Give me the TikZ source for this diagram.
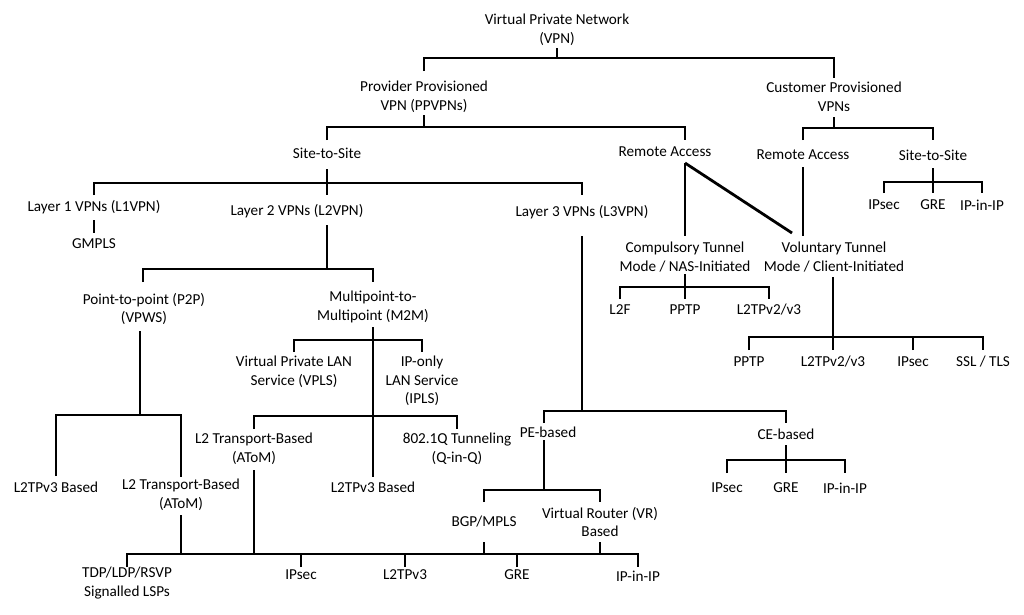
\documentclass[tikz,border=0pt]{standalone}
\usepackage{fontspec}
\setmainfont{Carlito}
\begin{document}
\begin{tikzpicture}[x=1pt,y=-1pt,
  every node/.style={font=\fontsize{15.2}{18.5}\selectfont, align=center, inner sep=0pt},
  link/.style={line width=2.8pt}]
\fill[white] (0,0) rectangle (1024,614);
\useasboundingbox (0,0) rectangle (1024,614);
% nodes
\node (vpn) at (557,30) {Virtual Private Network\\(VPN)};
\node (ppvpn) at (424,97) {Provider Provisioned\\VPN (PPVPNs)};
\node (cpvpn) at (834,97) {Customer Provisioned\\VPNs};
\node (s2s) at (327,153) {Site-to-Site};
\node (ppra) at (665,152) {Remote Access};
\node (cpra) at (803,155) {Remote Access};
\node (cps2s) at (933,155) {Site-to-Site};
\node (cpipsec) at (884,205) {IPsec};
\node (cpgre) at (933,205) {GRE};
\node (cpipip) at (982,205) {IP-in-IP};
\node (l1) at (94,207) {Layer 1 VPNs (L1VPN)};
\node (l2) at (297,211) {Layer 2 VPNs (L2VPN)};
\node (l3) at (582,212) {Layer 3 VPNs (L3VPN)};
\node (gmpls) at (94,244) {GMPLS};
\node (comp) at (685,257) {Compulsory Tunnel\\Mode / NAS-Initiated};
\node (vol) at (834,257) {Voluntary Tunnel\\Mode / Client-Initiated};
\node (l2f) at (620,310) {L2F};
\node (pptpa) at (685,310) {PPTP};
\node (l2tpva) at (769,310) {L2TPv2/v3};
\node (pptpb) at (749,362) {PPTP};
\node (l2tpvb) at (833,362) {L2TPv2/v3};
\node (ipsecv) at (913,362) {IPsec};
\node (ssl) at (983,362) {SSL / TLS};
\node (p2p) at (144,309) {Point-to-point (P2P)\\(VPWS)};
\node (m2m) at (373,307) {Multipoint-to-\\Multipoint (M2M)};
\node (vpls) at (294,372) {Virtual Private LAN\\Service (VPLS)};
\node (ipls) at (422,381) {IP-only\\LAN Service\\(IPLS)};
\node (l2tpa) at (56,487) {L2TPv3 Based};
\node (atoma) at (181,495) {L2 Transport-Based\\(AToM)};
\node (atomb) at (254,449) {L2 Transport-Based\\(AToM)};
\node (qinq) at (457,449) {802.1Q Tunneling\\(Q-in-Q)};
\node (l2tpb) at (373,487) {L2TPv3 Based};
\node (pe) at (548,432) {PE-based};
\node (ce) at (786,434) {CE-based};
\node (ceipsec) at (727,488) {IPsec};
\node (cegre) at (786,488) {GRE};
\node (ceipip) at (845,488) {IP-in-IP};
\node (bgp) at (484,522) {BGP/MPLS};
\node (vr) at (600,522) {Virtual Router (VR)\\Based};
\node (tdp) at (127,583) {TDP/LDP/RSVP\\Signalled LSPs};
\node (bipsec) at (301,575) {IPsec};
\node (bl2tp) at (405,575) {L2TPv3};
\node (bgre) at (517,575) {GRE};
\node (bipip) at (638,576) {IP-in-IP};
% junctions
\coordinate (j1) at (557,58);
\coordinate (j2) at (424,127);
\coordinate (j3) at (834,128);
\coordinate (j4) at (933,182);
\coordinate (j5) at (327,183);
\coordinate (j6) at (685,287);
\coordinate (j7) at (833,337);
\coordinate (j8) at (327,269);
\coordinate (j9) at (140,415);
\coordinate (j10) at (373,340);
\coordinate (j11) at (373,416);
\coordinate (j12) at (582,411);
\coordinate (j13) at (544,490);
\coordinate (j14) at (786,460);
\coordinate (busR) at (638,554);
% VPN
\draw[link] ([yshift=-18pt]vpn.center) -- (j1);
\draw[link] ([yshift=26pt]ppvpn.center) |- (j1) -| ([yshift=19pt]cpvpn.center);
% PPVPN
\draw[link] ([yshift=-18pt]ppvpn.center) -- (j2);
\draw[link] ([yshift=13pt]s2s.center) |- (j2) -| ([xshift=20pt,yshift=12pt]ppra.center);
% CP
\draw[link] ([yshift=-20pt]cpvpn.center) -- (j3);
\draw[link] ([yshift=15pt]cpra.center) |- (j3) -| ([yshift=15pt]cps2s.center);
% CP site-to-site
\draw[link] ([yshift=-13pt]cps2s.center) -- ([yshift=12pt]cpgre.center);
\draw[link] ([yshift=12pt]cpipsec.center) |- (j4) -| ([yshift=12pt]cpipip.center);
% PP site-to-site
\draw[link] ([yshift=-16pt]s2s.center) -- ([xshift=30pt,yshift=16pt]l2.center);
\draw[link] ([yshift=12pt]l1.center) |- (j5) -| ([yshift=17pt]l3.center);
% L1
\draw[link] ([yshift=-13pt]l1.center) -- ([yshift=11pt]gmpls.center);
% PP remote access
\draw[link] ([xshift=20pt,yshift=-11pt]ppra.center) -- ([yshift=21pt]comp.center);
\draw[link] ([xshift=20pt,yshift=-11pt]ppra.center) -- ([xshift=-42pt,yshift=24pt]vol.center);
% CP remote access
\draw[link] ([yshift=-12pt]cpra.center) -- ([xshift=-31pt,yshift=21pt]vol.center);
% compulsory
\draw[link] ([yshift=-17pt]comp.center) -- ([yshift=11pt]pptpa.center);
\draw[link] ([yshift=11pt]l2f.center) |- (j6) -| ([yshift=11pt]l2tpva.center);
% voluntary
\draw[link] ([xshift=-1pt,yshift=-20pt]vol.center) -- ([yshift=12pt]l2tpvb.center);
\draw[link] ([yshift=12pt]pptpb.center) |- (j7) -| ([yshift=12pt]ssl.center);
\draw[link] ([yshift=12pt]ipsecv.center) -- (ipsecv |- j7);
% L2
\draw[link] ([xshift=30pt,yshift=-14pt]l2.center) -- (j8);
\draw[link] ([xshift=-1pt,yshift=27pt]p2p.center) |- (j8) -| ([yshift=25pt]m2m.center);
% P2P
\draw[link] ([xshift=-4pt,yshift=-22pt]p2p.center) -- (j9);
\draw[link] ([yshift=11pt]l2tpa.center) |- (j9) -| ([yshift=18pt]atoma.center);
% M2M
\draw[link] ([yshift=-20pt]m2m.center) -- ([yshift=10pt]l2tpb.center);
\draw[link] ([yshift=20pt]vpls.center) |- (j10) -| ([yshift=29pt]ipls.center);
\draw[link] ([yshift=20pt]atomb.center) |- (j11) -| ([yshift=20pt]qinq.center);
% bottom bus
\draw[link] ([yshift=16pt]tdp.center) |- (busR) -- ([yshift=9pt]bipip.center);
\draw[link] ([yshift=-20pt]atoma.center) -- (atoma |- busR);
\draw[link] ([yshift=-21pt]atomb.center) -- (atomb |- busR);
\draw[link] ([yshift=-20pt]bgp.center) -- (bgp |- busR);
\draw[link] ([yshift=-20pt]vr.center) -- (vr |- busR);
\draw[link] ([yshift=8pt]bipsec.center) -- (bipsec |- busR);
\draw[link] ([yshift=8pt]bl2tp.center) -- (bl2tp |- busR);
\draw[link] ([yshift=8pt]bgre.center) -- (bgre |- busR);
% L3
\draw[link] ([yshift=-24pt]l3.center) -- (j12);
\draw[link] ([xshift=-4pt,yshift=9pt]pe.center) |- (j12) -| ([yshift=11pt]ce.center);
% PE
\draw[link] ([xshift=-4pt,yshift=-8pt]pe.center) -- (j13);
\draw[link] ([yshift=20pt]bgp.center) |- (j13) -| ([yshift=20pt]vr.center);
% CE
\draw[link] ([yshift=-11pt]ce.center) -- ([yshift=15pt]cegre.center);
\draw[link] ([yshift=15pt]ceipsec.center) |- (j14) -| ([yshift=15pt]ceipip.center);
\end{tikzpicture}
\end{document}
